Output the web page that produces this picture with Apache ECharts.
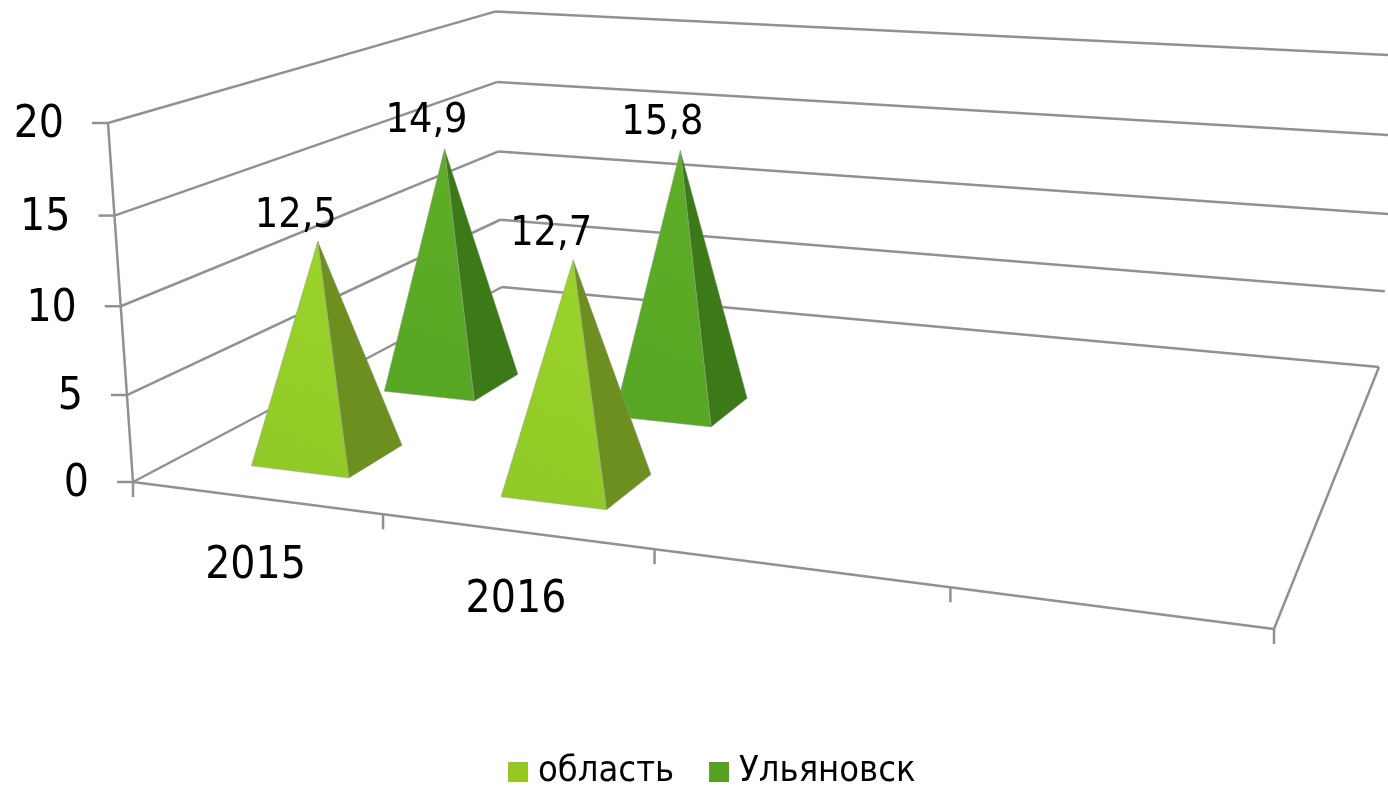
<!DOCTYPE html>
<html style="height: 100%">
<head>
<meta charset="utf-8">
</head>
<body style="height: 100%; margin: 0; background: #fff">
<div id="container" style="height: 100%"></div>
<script src="https://cdn.jsdelivr.net/npm/echarts@6/dist/echarts.min.js"></script>
<script>
var categories = ['2015', '2016', '', ''];
var oblast = [12.5, 12.7];
var ulyanovsk = [14.9, 15.8];
var valueTicks = [0, 5, 10, 15, 20];

var FONT = '"DejaVu Sans Condensed", "DejaVu Sans", sans-serif';
var LINE = '#919191';

// floor corners of the 3d box on screen: front-left, front-right, back-right, back-left
var floor = [[133, 482], [1274, 629], [1379, 367], [502, 287]];
// homogeneous shift of a point raised to the top of the value axis
var lift = [-29.4, -364, -0.0407];
var depthSlots = 3; // excel keeps an empty third row behind the two series
var barShare = 0.4; // gap width 150%

var H = (function () {
    var p = floor;
    var dx1 = p[1][0] - p[2][0], dx2 = p[3][0] - p[2][0], sx = p[0][0] - p[1][0] + p[2][0] - p[3][0];
    var dy1 = p[1][1] - p[2][1], dy2 = p[3][1] - p[2][1], sy = p[0][1] - p[1][1] + p[2][1] - p[3][1];
    var det = dx1 * dy2 - dx2 * dy1;
    var g = (sx * dy2 - dx2 * sy) / det;
    var h = (dx1 * sy - sx * dy1) / det;
    return {
        a: p[1][0] - p[0][0] + g * p[1][0], b: p[3][0] - p[0][0] + h * p[3][0], c: p[0][0],
        d: p[1][1] - p[0][1] + g * p[1][1], e: p[3][1] - p[0][1] + h * p[3][1], f: p[0][1],
        g: g, h: h
    };
})();

// u, v in 0..1 along the floor, t in 0..1 along the value axis
function project(u, v, t) {
    var w = H.g * u + H.h * v + 1 + lift[2] * t;
    return [
        (H.a * u + H.b * v + H.c + lift[0] * t) / w,
        (H.d * u + H.e * v + H.f + lift[1] * t) / w
    ];
}

// read the hidden cartesian axes and turn them into scene units
function scene(api, cat, value) {
    var pt = api.coord([cat, value]);
    var band = api.size([1, 0])[0];
    return {
        u: pt[0] / api.getWidth(),
        t: 1 - pt[1] / api.getHeight(),
        band: band / api.getWidth()
    };
}

function line(a, b) {
    return {
        type: 'line',
        shape: { x1: a[0], y1: a[1], x2: b[0], y2: b[1] },
        style: { stroke: LINE, lineWidth: 2.5 }
    };
}

function label(text, x, y, size, align) {
    return {
        type: 'text',
        style: {
            text: text, x: x, y: y + 3, fill: '#000', fontFamily: FONT, fontSize: size,
            align: align || 'center', verticalAlign: 'middle'
        }
    };
}

function renderFrame(params, api) {
    var kids = [];
    valueTicks.forEach(function (tick) {
        var t = scene(api, 0, tick).t;
        var front = project(0, 0, t), back = project(0, 1, t), right = project(1, 1, t);
        kids.push(line(front, back), line(back, right));
        kids.push(line([front[0] - 16, front[1]], front));
        kids.push(label(String(tick), front[0] - 44, front[1], 44, 'right'));
    });
    kids.push(line(project(0, 0, 0), project(0, 0, 1)));
    kids.push(line(project(0, 0, 0), project(1, 0, 0)));
    kids.push(line(project(1, 0, 0), project(1, 1, 0)));
    categories.forEach(function (name, i) {
        var s = scene(api, i, 0);
        var left = s.u - s.band / 2;
        var p = project(left, 0, 0);
        kids.push(line(p, [p[0], p[1] + 15]));
        if (i === categories.length - 1) {
            var end = project(left + s.band, 0, 0);
            kids.push(line(end, [end[0], end[1] + 15]));
        }
        var c = project(s.u, 0, 0);
        kids.push(label(name, c[0], c[1] + 66, 44));
    });
    return { type: 'group', children: kids };
}

function face(points, fill) {
    return {
        type: 'polygon',
        shape: { points: points },
        style: { fill: fill, stroke: 'rgba(150,150,150,0.45)', lineWidth: 1 }
    };
}

function pyramidRenderer(row, frontColors, sideColor, labelDx, labelDy) {
    return function (params, api) {
        var cat = api.value(0), val = api.value(1);
        var s = scene(api, cat, val);
        var hw = s.band * barShare / 2;
        var hd = barShare / depthSlots / 2;
        var v = (row + 0.5) / depthSlots;
        var fl = project(s.u - hw, v - hd, 0);
        var fr = project(s.u + hw, v - hd, 0);
        var br = project(s.u + hw, v + hd, 0);
        var top = project(s.u, v, s.t);
        var fill = new echarts.graphic.LinearGradient(0, 1, 1, 0, [
            { offset: 0, color: frontColors[0] },
            { offset: 1, color: frontColors[1] }
        ]);
        return {
            type: 'group',
            children: [
                face([fr, br, top], sideColor),
                face([fl, fr, top], fill),
                label(String(val).replace('.', ','), top[0] + labelDx, top[1] + labelDy, 41)
            ]
        };
    };
}

function rows(values) {
    return values.map(function (v, i) { return [i, v]; });
}

var myChart = echarts.init(document.getElementById('container'));
myChart.setOption({
    animation: false,
    grid: { left: 0, right: 0, top: 0, bottom: 0 },
    xAxis: { type: 'category', data: categories, show: false },
    yAxis: { type: 'value', min: 0, max: 20, interval: 5, show: false },
    legend: {
        data: ['область', 'Ульяновск'],
        top: 747,
        left: 503,
        icon: 'rect',
        itemWidth: 20,
        itemHeight: 20,
        itemGap: 35,
        textStyle: { fontFamily: FONT, fontSize: 36, lineHeight: 40, color: '#000', padding: [0, 0, 0, 5] }
    },
    series: [
        {
            name: 'frame', type: 'custom', z: 1, silent: true,
            data: [[0, 0]], renderItem: renderFrame
        },
        {
            name: 'Ульяновск', type: 'custom', z: 2,
            itemStyle: { color: '#56a021' },
            data: rows(ulyanovsk),
            renderItem: pyramidRenderer(1, ['#57a624', '#5eae27'], '#3c7a18', -18, -30)
        },
        {
            name: 'область', type: 'custom', z: 3,
            itemStyle: { color: '#96c823' },
            data: rows(oblast),
            renderItem: pyramidRenderer(0, ['#90c926', '#9ad42a'], '#6c8f1f', -22, -28)
        }
    ]
});
</script>
</body>
</html>
